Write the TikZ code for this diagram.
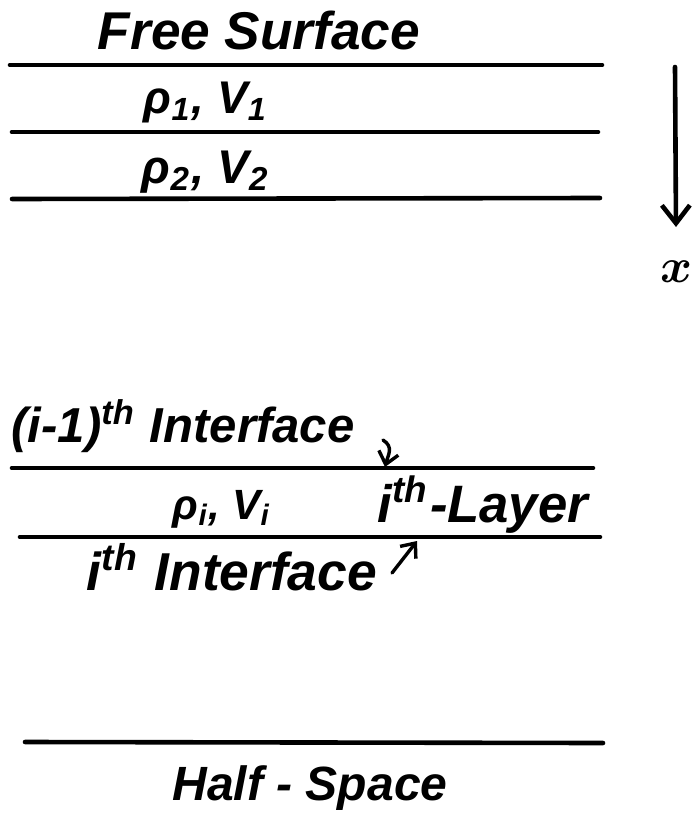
\documentclass[tikz,border=0pt]{standalone}
\usepackage{amsmath}
\usepackage{fontspec}
\setmainfont{Liberation Sans}
\usetikzlibrary{arrows.meta}
\newcommand{\hwtext}[2]{\resizebox{#1}{!}{\bfseries\itshape #2}}
\tikzset{
  layerline/.style={line width=4.6pt, line cap=round},
  hand/.style={inner sep=0pt, anchor=base},
  bigarrow/.style={line width=4.6pt, line cap=round, -{Straight Barb[length=18pt,width=28pt]}},
  smallarrow/.style={line width=3.4pt, line cap=round, -{Straight Barb[length=12pt,width=20pt]}}
}
\begin{document}
\begin{tikzpicture}[x=1pt,y=-1pt]
\useasboundingbox (0,0) rectangle (695,821);

% layer lines
\coordinate (l1a) at (10,65);  \coordinate (l1b) at (602,65);
\coordinate (l2a) at (12,132); \coordinate (l2b) at (598,132);
\coordinate (l3a) at (12,199); \coordinate (l3b) at (600,198);
\coordinate (l4a) at (12,468); \coordinate (l4b) at (593,468);
\coordinate (l5a) at (20,537); \coordinate (l5b) at (600,537);
\coordinate (l6a) at (25,742); \coordinate (l6b) at (603,743);
\foreach \a/\b in {l1a/l1b,l2a/l2b,l3a/l3b,l4a/l4b,l5a/l5b,l6a/l6b}
  \draw[layerline] (\a) -- (\b);

% labels
\node[hand] (free) at (259,50) {\hwtext{322pt}{Free Surface}};
\node[hand] (rho1) at (206,114) {\hwtext{124pt}{ρ\textsubscript{1}, V\textsubscript{1}}};
\node[hand] (rho2) at (206,183) {\hwtext{128pt}{ρ\textsubscript{2}, V\textsubscript{2}}};
\node[hand] (int1) at (183,442) {\hwtext{343pt}{(i-1)\textsuperscript{th} Interface}};
\node[hand] (rhoi) at (222,519) {\hwtext{98pt}{ρ\textsubscript{i}, V\textsubscript{i}}};
\node[hand] (layer) at (483,522) {\hwtext{210pt}{i\textsuperscript{th}-Layer}};
\node[hand] (int2) at (232,590) {\hwtext{290pt}{i\textsuperscript{th} Interface}};
\node[hand] (half) at (310,800) {\hwtext{275pt}{Half - Space}};

% depth axis
\coordinate (atop) at (675,67);
\coordinate (abot) at (676,227);
\draw[bigarrow] (atop) -- (abot);
\node[inner sep=0pt] (xlab) at (676,272) {\resizebox{32pt}{!}{$\boldsymbol{x}$}};

% pointer arrows
\coordinate (p1s) at (383,440);
\coordinate (p1e) at (385,467);
\draw[smallarrow] (p1s) .. controls (394,447) and (388,455) .. (p1e);
\coordinate (p2s) at (392,573);
\coordinate (p2e) at (417,541);
\draw[smallarrow] (p2s) -- (p2e);
\end{tikzpicture}
\end{document}
